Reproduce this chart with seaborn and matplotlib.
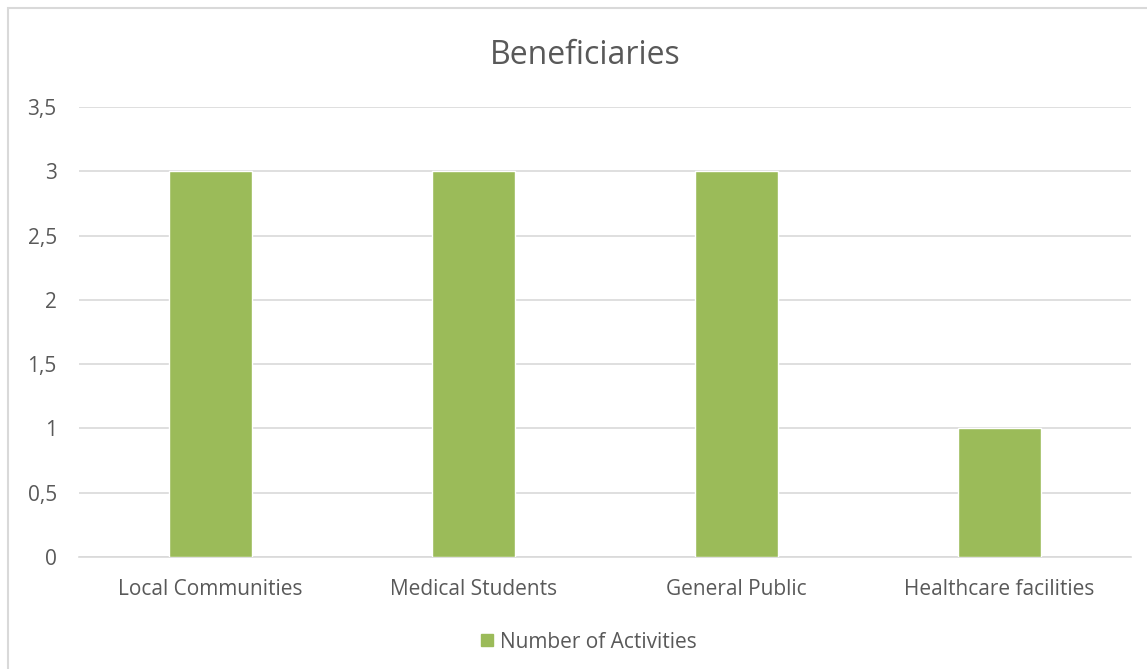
import matplotlib
matplotlib.use("Agg")
import matplotlib.pyplot as plt
import seaborn as sns
import pandas as pd
from matplotlib.patches import Rectangle

# data
categories = ["Local Communities", "Medical Students", "General Public", "Healthcare facilities"]
activities = [3, 3, 3, 1]
y_ticks = [0, 0.5, 1, 1.5, 2, 2.5, 3, 3.5]
y_tick_labels = ["0", "0,5", "1", "1,5", "2", "2,5", "3", "3,5"]

df = pd.DataFrame({"Beneficiary": categories, "Number of Activities": activities})

sns.set_theme(style="white")
plt.rcParams['font.family'] = ['Open Sans', 'DejaVu Sans']
text_col = "#595959"
grid_col = "#D9D9D9"
bar_col = "#9BBB59"

fig = plt.figure(figsize=(11.47, 6.69), dpi=100)
ax = fig.add_axes([79/1147, 1 - 557/669, (1131 - 79)/1147, (557 - 107)/669])

sns.barplot(data=df, x="Beneficiary", y="Number of Activities", color=bar_col,
            width=0.316, saturation=1, ax=ax, zorder=3)

ax.set_ylim(0, 3.5)
ax.set_xlim(-0.5, 3.5)
ax.set_yticks(y_ticks)
ax.set_yticklabels(y_tick_labels)
ax.yaxis.grid(True, color=grid_col, linewidth=1.2, zorder=0)
ax.set_axisbelow(True)
for s in ["top", "right", "left"]:
    ax.spines[s].set_visible(False)
ax.spines["bottom"].set_color(grid_col)
ax.spines["bottom"].set_linewidth(1.2)
ax.tick_params(axis="y", length=0, pad=16, labelsize=15, labelcolor=text_col)
ax.tick_params(axis="x", length=0, pad=16, labelsize=15, labelcolor=text_col)
ax.set_xlabel("")
ax.set_ylabel("")

fig.text(585/1147, 1 - 55/669, "Beneficiaries", ha="center", va="center",
         fontsize=23, color=text_col)

# legend
fig.patches.append(Rectangle((481/1147, 1 - 646/669), 12/1147, 12/669,
                             transform=fig.transFigure, color=bar_col, figure=fig))
fig.text(500/1147, 1 - 643/669, "Number of Activities", ha="left", va="center",
         fontsize=15, color=text_col)

# chart area border
fig.patches.append(Rectangle((8/1147, -0.01), 1.02, 1 - 8/669 + 0.01,
                             transform=fig.transFigure, fill=False,
                             edgecolor=grid_col, linewidth=1.5, figure=fig))

fig.savefig("out.png", dpi=100, facecolor="white")
